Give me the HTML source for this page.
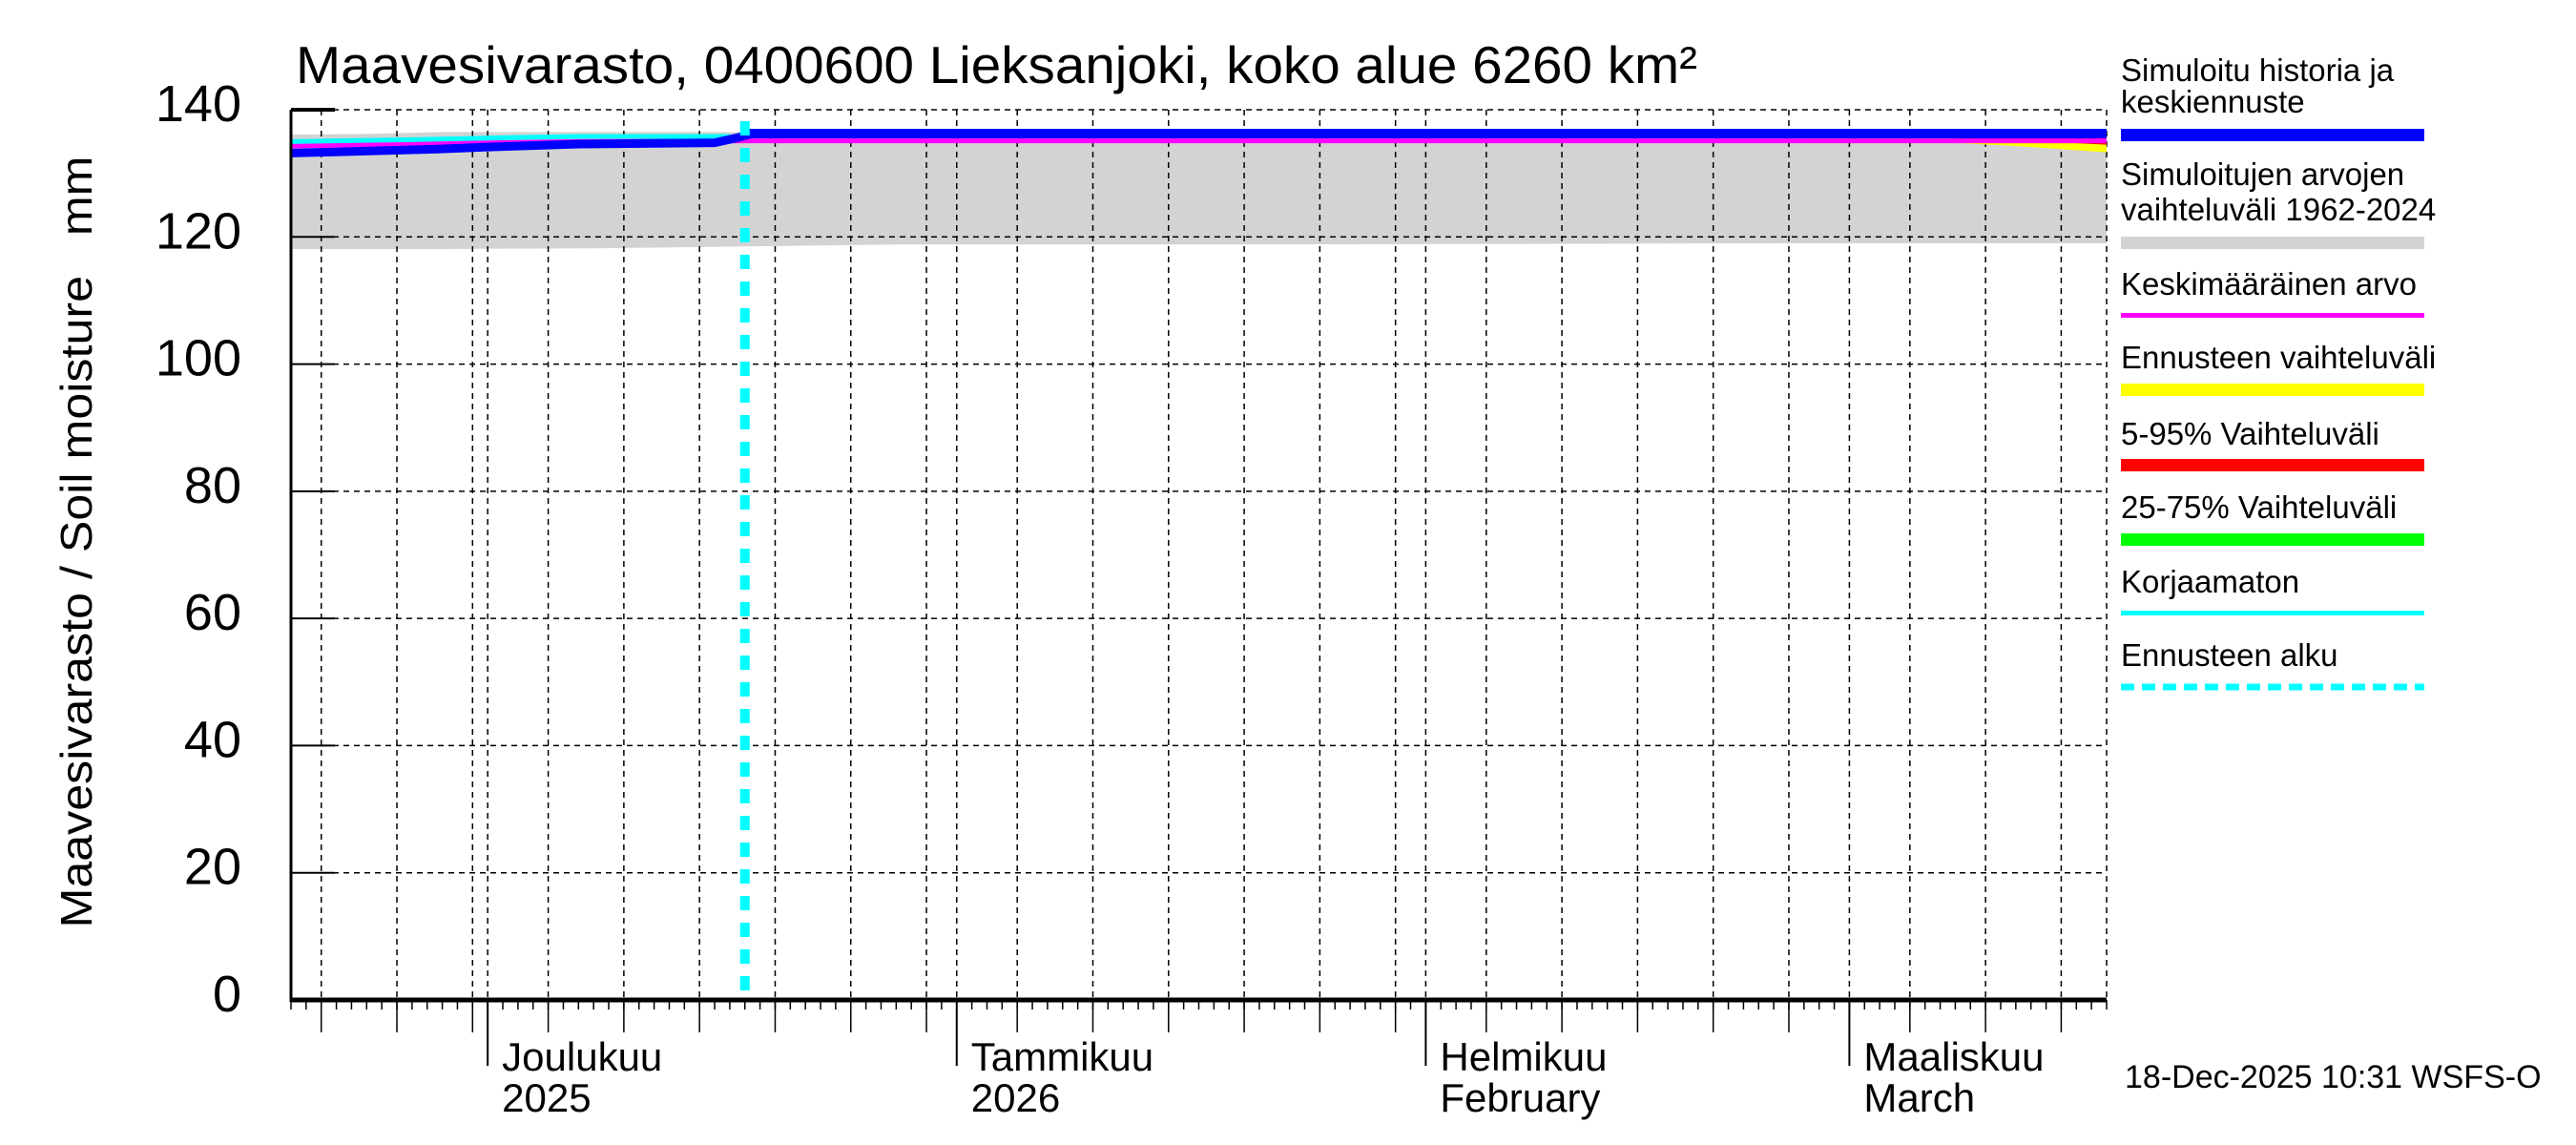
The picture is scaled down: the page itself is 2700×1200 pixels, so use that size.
<!DOCTYPE html>
<html><head><meta charset="utf-8"><style>
html,body{margin:0;padding:0;background:#fff;}
svg{display:block;font-family:"Liberation Sans",sans-serif;}
</style></head><body>
<svg id="chart" width="2700" height="1200" viewBox="0 0 2700 1200" xmlns="http://www.w3.org/2000/svg">
<rect x="0" y="0" width="2700" height="1200" fill="#fff"/>
<g id="bands"></g>
<g id="grid"></g>
<g id="series"></g>
<g id="axes"></g>
<text x="310" y="87" font-size="55" textLength="1469" lengthAdjust="spacingAndGlyphs">Maavesivarasto, 0400600 Lieksanjoki, koko alue 6260 km²</text>
<text transform="translate(96,568) rotate(-90)" text-anchor="middle" font-size="46" textLength="809" lengthAdjust="spacingAndGlyphs" xml:space="preserve">Maavesivarasto / Soil moisture   mm</text>
<text x="2227" y="1140" font-size="34">18-Dec-2025 10:31 WSFS-O</text>
<g id="legend">
<text x="2223" y="85" font-size="33">Simuloitu historia ja</text>
<text x="2223" y="118" font-size="33">keskiennuste</text>
<rect x="2223" y="135" width="318" height="13" fill="#0000ff"/>
<text x="2223" y="194" font-size="33">Simuloitujen arvojen</text>
<text x="2223" y="231" font-size="33">vaihteluväli 1962-2024</text>
<rect x="2223" y="248" width="318" height="13" fill="#d3d3d3"/>
<text x="2223" y="309" font-size="33">Keskimääräinen arvo</text>
<rect x="2223" y="328" width="318" height="5" fill="#ff00ff"/>
<text x="2223" y="386" font-size="33">Ennusteen vaihteluväli</text>
<rect x="2223" y="402" width="318" height="13" fill="#ffff00"/>
<text x="2223" y="466" font-size="33">5-95% Vaihteluväli</text>
<rect x="2223" y="481" width="318" height="13" fill="#ff0000"/>
<text x="2223" y="543" font-size="33">25-75% Vaihteluväli</text>
<rect x="2223" y="559" width="318" height="13" fill="#00ff00"/>
<text x="2223" y="621" font-size="33">Korjaamaton</text>
<rect x="2223" y="640" width="318" height="5" fill="#00ffff"/>
<text x="2223" y="698" font-size="33">Ennusteen alku</text>
<line x1="2223" y1="720" x2="2541" y2="720" stroke="#00ffff" stroke-width="7" stroke-dasharray="14,8"/>
</g>
</svg>
<script>
// ---- data (day index: 0 = 18 Nov 2025) ----
const yTicks = [0, 20, 40, 60, 80, 100, 120, 140];
const monthStarts = [13, 44, 75, 103];
const monthNames = ["Joulukuu", "Tammikuu", "Helmikuu", "Maaliskuu"];
const monthSub = ["2025", "2026", "February", "March"];
const forecastStartDay = 30;
const rangeDays  = [0, 5, 10, 20, 30, 40, 60, 80, 100, 120];
const rangeTop   = [136.1, 136.2, 136.5, 136.5, 136.5, 136.5, 136.5, 136.5, 136.4, 136.4];
const rangeBot   = [118.1, 118.1, 118.1, 118.2, 118.5, 118.8, 118.8, 118.9, 119.0, 119.0];
const histDays   = [0, 3.5, 9.5, 12.6, 19, 28, 29.5, 30.5];
const histVals   = [133.2, 133.4, 133.8, 134.1, 134.6, 134.8, 135.6, 136.25];
const uncDays    = [0, 8, 14, 19, 29];
const uncVals    = [135.0, 135.3, 135.6, 135.8, 135.8];
const meanDays   = [0, 10, 19, 30, 60, 90, 120];
const meanVals   = [134.3, 134.7, 135.0, 135.1, 135.1, 135.1, 135.1];
const fcDays     = [30, 60, 90, 108, 114, 120];
const fcMedian   = [136.25, 136.25, 136.25, 136.25, 136.25, 136.25];
const fcMax      = [136.2, 136.4, 136.4, 136.4, 136.4, 136.4];
const fcMin      = [136.2, 136.2, 136.0, 135.0, 134.3, 133.3];
const fc5        = [136.2, 136.2, 136.1, 135.6, 135.2, 134.5];
const fc25       = [136.2, 136.2, 136.2, 136.0, 135.9, 135.7];

// ---- scales ----
const X0 = 305, X1 = 2208, DAYS = 120, Y0 = 1048, Y140 = 115;
const xs = d => X0 + d * (X1 - X0) / DAYS;
const ys = v => Y0 - v * (Y0 - Y140) / 140;
const NS = "http://www.w3.org/2000/svg";
function mk(tag, attrs, parent) {
  const e = document.createElementNS(NS, tag);
  for (const k in attrs) e.setAttribute(k, attrs[k]);
  document.getElementById(parent).appendChild(e);
  return e;
}
function pts(days, vals) { return days.map((d, i) => xs(d) + "," + ys(vals[i])).join(" "); }
function bandPts(days, top, bot) {
  const a = days.map((d, i) => xs(d) + "," + ys(top[i]));
  const b = days.map((d, i) => xs(d) + "," + ys(bot[i])).reverse();
  return a.concat(b).join(" ");
}

// gray range band
let e = mk("polygon", {points: bandPts(rangeDays, rangeTop, rangeBot), fill: "#d3d3d3"}, "bands");



// grid
const gridDays = [];
[[-17, 30], [13, 31], [44, 31], [75, 28], [103, 31]].forEach(([start, len]) => {
  for (let dd = 5; dd <= 30 && dd <= len; dd += 5) {
    const d = start + dd - 1;
    if (d > 0 && d < DAYS) gridDays.push(d);
  }
});
gridDays.concat(monthStarts).forEach(d => {
  e = mk("line", {x1: xs(d), x2: xs(d), y1: Y140, y2: Y0, stroke: "#000", "stroke-width": 1.5, "stroke-dasharray": "6,5"}, "grid");
  
  
});
yTicks.forEach(v => {
  e = mk("line", {x1: X0, x2: X1, y1: ys(v), y2: ys(v), stroke: "#000", "stroke-width": 1.5, "stroke-dasharray": "6,5"}, "grid");
  
  
});
e = mk("line", {x1: X1, x2: X1, y1: Y140, y2: Y0, stroke: "#000", "stroke-width": 1.5, "stroke-dasharray": "6,5"}, "grid");



// forecast series
e = mk("polygon", {points: bandPts(fcDays, fcMax, fcMin), fill: "#ffff00"}, "series");


e = mk("polygon", {points: bandPts(fcDays, fcMax, fc5), fill: "#ff0000"}, "series");


e = mk("polygon", {points: bandPts(fcDays, fcMax, fc25), fill: "#00ff00"}, "series");


e = mk("polyline", {points: pts(meanDays, meanVals), fill: "none", stroke: "#ff00ff", "stroke-width": 5}, "series");


e = mk("polyline", {points: pts(uncDays, uncVals), fill: "none", stroke: "#00ffff", "stroke-width": 5}, "series");


e = mk("polyline", {points: pts(histDays, histVals), fill: "none", stroke: "#0000ff", "stroke-width": 9}, "series");


e = mk("polyline", {points: pts(fcDays, fcMedian), fill: "none", stroke: "#0000ff", "stroke-width": 10}, "series");


e = mk("line", {x1: xs(forecastStartDay), x2: xs(forecastStartDay), y1: 127, y2: Y0, stroke: "#00ffff", "stroke-width": 10, "stroke-dasharray": "15,13"}, "series");



// axes
e = mk("line", {x1: X0, x2: X0, y1: Y140, y2: Y0 + 2, stroke: "#000", "stroke-width": 3}, "axes");


e = mk("line", {x1: X0 - 1, x2: X1, y1: Y0, y2: Y0, stroke: "#000", "stroke-width": 5}, "axes");


yTicks.forEach(v => {
  e = mk("line", {x1: X0, x2: X0 + 46, y1: ys(v), y2: ys(v), stroke: "#000", "stroke-width": v === 140 ? 4 : 2}, "axes");
  
  
  e = mk("text", {x: 253, y: ys(v) + 12, "text-anchor": "end", "font-size": 54}, "axes");
  e.textContent = String(v);
  
  
});
for (let d = 0; d <= DAYS; d++) {
  e = mk("line", {x1: xs(d), x2: xs(d), y1: Y0, y2: Y0 + 10, stroke: "#000", "stroke-width": 1.5}, "axes");
  
  
}
gridDays.forEach(d => {
  e = mk("line", {x1: xs(d), x2: xs(d), y1: Y0, y2: 1082, stroke: "#000", "stroke-width": 1.5}, "axes");
  
  
});
monthStarts.forEach((d, i) => {
  e = mk("line", {x1: xs(d), x2: xs(d), y1: Y0, y2: 1117, stroke: "#000", "stroke-width": 2}, "axes");
  
  
  e = mk("text", {x: xs(d) + 15, y: 1122, "font-size": 42}, "axes");
  e.textContent = monthNames[i];
  
  
  e = mk("text", {x: xs(d) + 15, y: 1165, "font-size": 42}, "axes");
  e.textContent = monthSub[i];
  
  
});
</script>
</body></html>
